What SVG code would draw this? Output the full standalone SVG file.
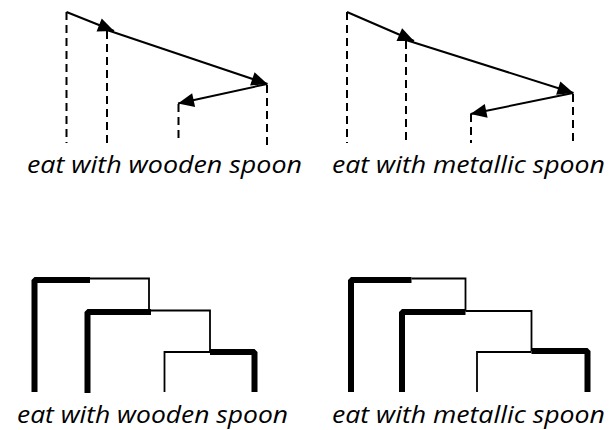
<svg xmlns="http://www.w3.org/2000/svg" width="609" height="430" viewBox="0 0 609 430">
  <style>
    .dash { stroke: #000; stroke-width: 2; stroke-dasharray: 8 5; fill: none; }
    .arr { stroke: #000; stroke-width: 2; fill: none; marker-end: url(#ah); }
    .thick { stroke: #000; stroke-width: 6; fill: none; stroke-linejoin: bevel; }
    .thin { stroke: #000; stroke-width: 1.8; fill: none; }
    .lbl { font-family: "Open Sans", "Noto Sans", sans-serif; font-style: italic; font-size: 24px; fill: #000; }
  </style>
  <defs>
    <marker id="ah" viewBox="-17 -8 18 16" refX="0" refY="0" markerWidth="18" markerHeight="16" markerUnits="userSpaceOnUse" orient="auto">
      <path d="M0,0 L-16,-7 L-16,7 Z" fill="#000"/>
    </marker>
  </defs>

  <g id="top-left">
    <g id="tl-dashes">
      <line class="dash" x1="66.5" y1="12" x2="66.5" y2="143"/>
      <line class="dash" x1="107" y1="31" x2="107" y2="143"/>
      <line class="dash" x1="178.5" y1="104" x2="178.5" y2="143"/>
      <line class="dash" x1="267" y1="85" x2="267" y2="145"/>
    </g>
    <g id="tl-connectors">
      <line class="arr" x1="66.5" y1="12" x2="114" y2="31"/>
      <line class="arr" x1="107" y1="30" x2="267.5" y2="84"/>
      <line class="arr" x1="267" y1="84" x2="178" y2="103.5"/>
    </g>
    <text class="lbl" x="27" y="173" textLength="275" lengthAdjust="spacingAndGlyphs">eat with wooden spoon</text>
  </g>

  <g id="top-right">
    <g id="tr-dashes">
      <line class="dash" x1="347" y1="12" x2="347" y2="143"/>
      <line class="dash" x1="406" y1="41" x2="406" y2="143"/>
      <line class="dash" x1="471" y1="114" x2="471" y2="143"/>
      <line class="dash" x1="573" y1="94" x2="573" y2="143"/>
    </g>
    <g id="tr-connectors">
      <line class="arr" x1="347" y1="12" x2="414" y2="41"/>
      <line class="arr" x1="406" y1="40" x2="573.5" y2="93"/>
      <line class="arr" x1="573" y1="93" x2="470.5" y2="114"/>
    </g>
    <text class="lbl" x="332" y="173" textLength="273" lengthAdjust="spacingAndGlyphs">eat with metallic spoon</text>
  </g>

  <g id="bottom-left">
    <polyline class="thick" points="34.5,392 34.5,280 90,280"/>
    <polyline class="thin" points="90,278.5 149,278.5 149,311"/>
    <polyline class="thick" points="87.5,393 87.5,312 151,312"/>
    <polyline class="thin" points="151,310.5 210,310.5 210,351"/>
    <polyline class="thin" points="164.5,392 164.5,352 210,352"/>
    <polyline class="thick" points="210,352 254.5,352 254.5,392"/>
    <text class="lbl" x="17" y="423" textLength="271" lengthAdjust="spacingAndGlyphs">eat with wooden spoon</text>
  </g>

  <g id="bottom-right">
    <polyline class="thick" points="351,392 351,280 411.5,280"/>
    <polyline class="thin" points="411.5,278.5 465.5,278.5 465.5,311"/>
    <polyline class="thick" points="402,392 402,312 465.5,312"/>
    <polyline class="thin" points="465.5,311 531.5,311 531.5,351"/>
    <polyline class="thin" points="477,392 477,352 531.5,352"/>
    <polyline class="thick" points="531.5,351 587.5,351 587.5,392"/>
    <text class="lbl" x="332" y="423" textLength="273" lengthAdjust="spacingAndGlyphs">eat with metallic spoon</text>
  </g>
</svg>
